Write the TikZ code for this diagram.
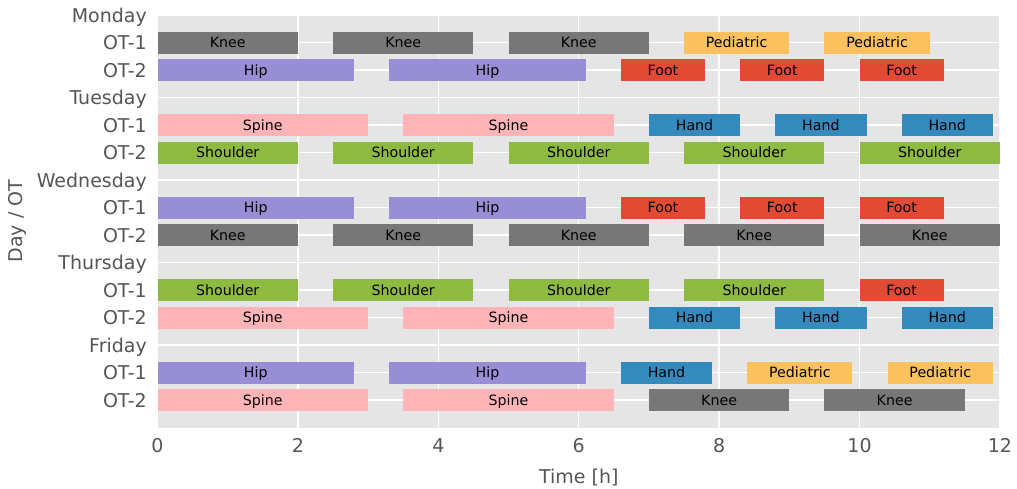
\documentclass[tikz,border=0pt]{standalone}
\usepackage{fontspec}
\setmainfont{DejaVu Sans}
\definecolor{axbg}{HTML}{E5E5E5}
\definecolor{tickc}{HTML}{555555}
\definecolor{cknee}{HTML}{777777}
\definecolor{chip}{HTML}{988ED5}
\definecolor{cfoot}{HTML}{E24A33}
\definecolor{cped}{HTML}{FBC15E}
\definecolor{cspine}{HTML}{FFB5B8}
\definecolor{chand}{HTML}{348ABD}
\definecolor{cshoulder}{HTML}{8EBA42}
\tikzset{
  barbox/.style={rectangle, draw=none, inner sep=0pt, outer sep=0pt,
    minimum height=22pt, text height=10.4pt, text depth=0pt,
    font=\fontsize{14.2}{14.2}\selectfont, text=black},
  ticklab/.style={text=tickc, inner sep=0pt, font=\fontsize{19}{19}\selectfont},
  gridline/.style={white, line width=1.3pt}
}
\newcommand{\gbar}[6]{%
  \node[barbox, fill=#5, minimum width={70.2*(#4-#3)}] (#1) at ({157.5+70.2*(#3+#4)/2},{15+27.5*#2}) {#6};}
\begin{document}
\begin{tikzpicture}[x=1pt,y=-1pt]
\useasboundingbox (0,0) rectangle (1017,488);
% axes background
\fill[axbg] (157.5,15) rectangle (1000,427.5);
\begin{scope}
\clip (157.5,15) rectangle (1000,427.5);
\foreach \t in {0,2,...,12} \draw[gridline] ({157.5+70.2*\t},15) -- ({157.5+70.2*\t},427.5);
\foreach \r in {0,...,14} \draw[gridline] (157.5,{15+27.5*\r}) -- (1000,{15+27.5*\r});
\end{scope}
% y tick labels
\foreach \r/\lab [count=\i] in {0/Monday,1/OT-1,2/OT-2,3/Tuesday,4/OT-1,5/OT-2,6/Wednesday,7/OT-1,8/OT-2,9/Thursday,10/OT-1,11/OT-2,12/Friday,13/OT-1,14/OT-2}
  \node[ticklab, anchor=base east] (yl\i) at (147,{15+27.5*\r+7.3}) {\lab};
% x tick labels
\foreach \t in {0,2,...,12}
  \node[ticklab, anchor=base] (xl\t) at ({157.5+70.2*\t},452.5) {\t};
% axis labels
\node[ticklab, anchor=base] (xlabel) at (578.75,483.5) {Time [h]};
\node[ticklab, rotate=90] (ylabel) at (17,221) {Day / OT};
% Monday
\gbar{a1}{1}{0}{2}{cknee}{Knee}
\gbar{a2}{1}{2.5}{4.5}{cknee}{Knee}
\gbar{a3}{1}{5}{7}{cknee}{Knee}
\gbar{a4}{1}{7.5}{9}{cped}{Pediatric}
\gbar{a5}{1}{9.5}{11}{cped}{Pediatric}
\gbar{b1}{2}{0}{2.8}{chip}{Hip}
\gbar{b2}{2}{3.3}{6.1}{chip}{Hip}
\gbar{b3}{2}{6.6}{7.8}{cfoot}{Foot}
\gbar{b4}{2}{8.3}{9.5}{cfoot}{Foot}
\gbar{b5}{2}{10}{11.2}{cfoot}{Foot}
% Tuesday
\gbar{c1}{4}{0}{3}{cspine}{Spine}
\gbar{c2}{4}{3.5}{6.5}{cspine}{Spine}
\gbar{c3}{4}{7}{8.3}{chand}{Hand}
\gbar{c4}{4}{8.8}{10.1}{chand}{Hand}
\gbar{c5}{4}{10.6}{11.9}{chand}{Hand}
\gbar{d1}{5}{0}{2}{cshoulder}{Shoulder}
\gbar{d2}{5}{2.5}{4.5}{cshoulder}{Shoulder}
\gbar{d3}{5}{5}{7}{cshoulder}{Shoulder}
\gbar{d4}{5}{7.5}{9.5}{cshoulder}{Shoulder}
\gbar{d5}{5}{10}{12}{cshoulder}{Shoulder}
% Wednesday
\gbar{e1}{7}{0}{2.8}{chip}{Hip}
\gbar{e2}{7}{3.3}{6.1}{chip}{Hip}
\gbar{e3}{7}{6.6}{7.8}{cfoot}{Foot}
\gbar{e4}{7}{8.3}{9.5}{cfoot}{Foot}
\gbar{e5}{7}{10}{11.2}{cfoot}{Foot}
\gbar{f1}{8}{0}{2}{cknee}{Knee}
\gbar{f2}{8}{2.5}{4.5}{cknee}{Knee}
\gbar{f3}{8}{5}{7}{cknee}{Knee}
\gbar{f4}{8}{7.5}{9.5}{cknee}{Knee}
\gbar{f5}{8}{10}{12}{cknee}{Knee}
% Thursday
\gbar{g1}{10}{0}{2}{cshoulder}{Shoulder}
\gbar{g2}{10}{2.5}{4.5}{cshoulder}{Shoulder}
\gbar{g3}{10}{5}{7}{cshoulder}{Shoulder}
\gbar{g4}{10}{7.5}{9.5}{cshoulder}{Shoulder}
\gbar{g5}{10}{10}{11.2}{cfoot}{Foot}
\gbar{h1}{11}{0}{3}{cspine}{Spine}
\gbar{h2}{11}{3.5}{6.5}{cspine}{Spine}
\gbar{h3}{11}{7}{8.3}{chand}{Hand}
\gbar{h4}{11}{8.8}{10.1}{chand}{Hand}
\gbar{h5}{11}{10.6}{11.9}{chand}{Hand}
% Friday
\gbar{i1}{13}{0}{2.8}{chip}{Hip}
\gbar{i2}{13}{3.3}{6.1}{chip}{Hip}
\gbar{i3}{13}{6.6}{7.9}{chand}{Hand}
\gbar{i4}{13}{8.4}{9.9}{cped}{Pediatric}
\gbar{i5}{13}{10.4}{11.9}{cped}{Pediatric}
\gbar{j1}{14}{0}{3}{cspine}{Spine}
\gbar{j2}{14}{3.5}{6.5}{cspine}{Spine}
\gbar{j3}{14}{7}{9}{cknee}{Knee}
\gbar{j4}{14}{9.5}{11.5}{cknee}{Knee}
\end{tikzpicture}
\end{document}
